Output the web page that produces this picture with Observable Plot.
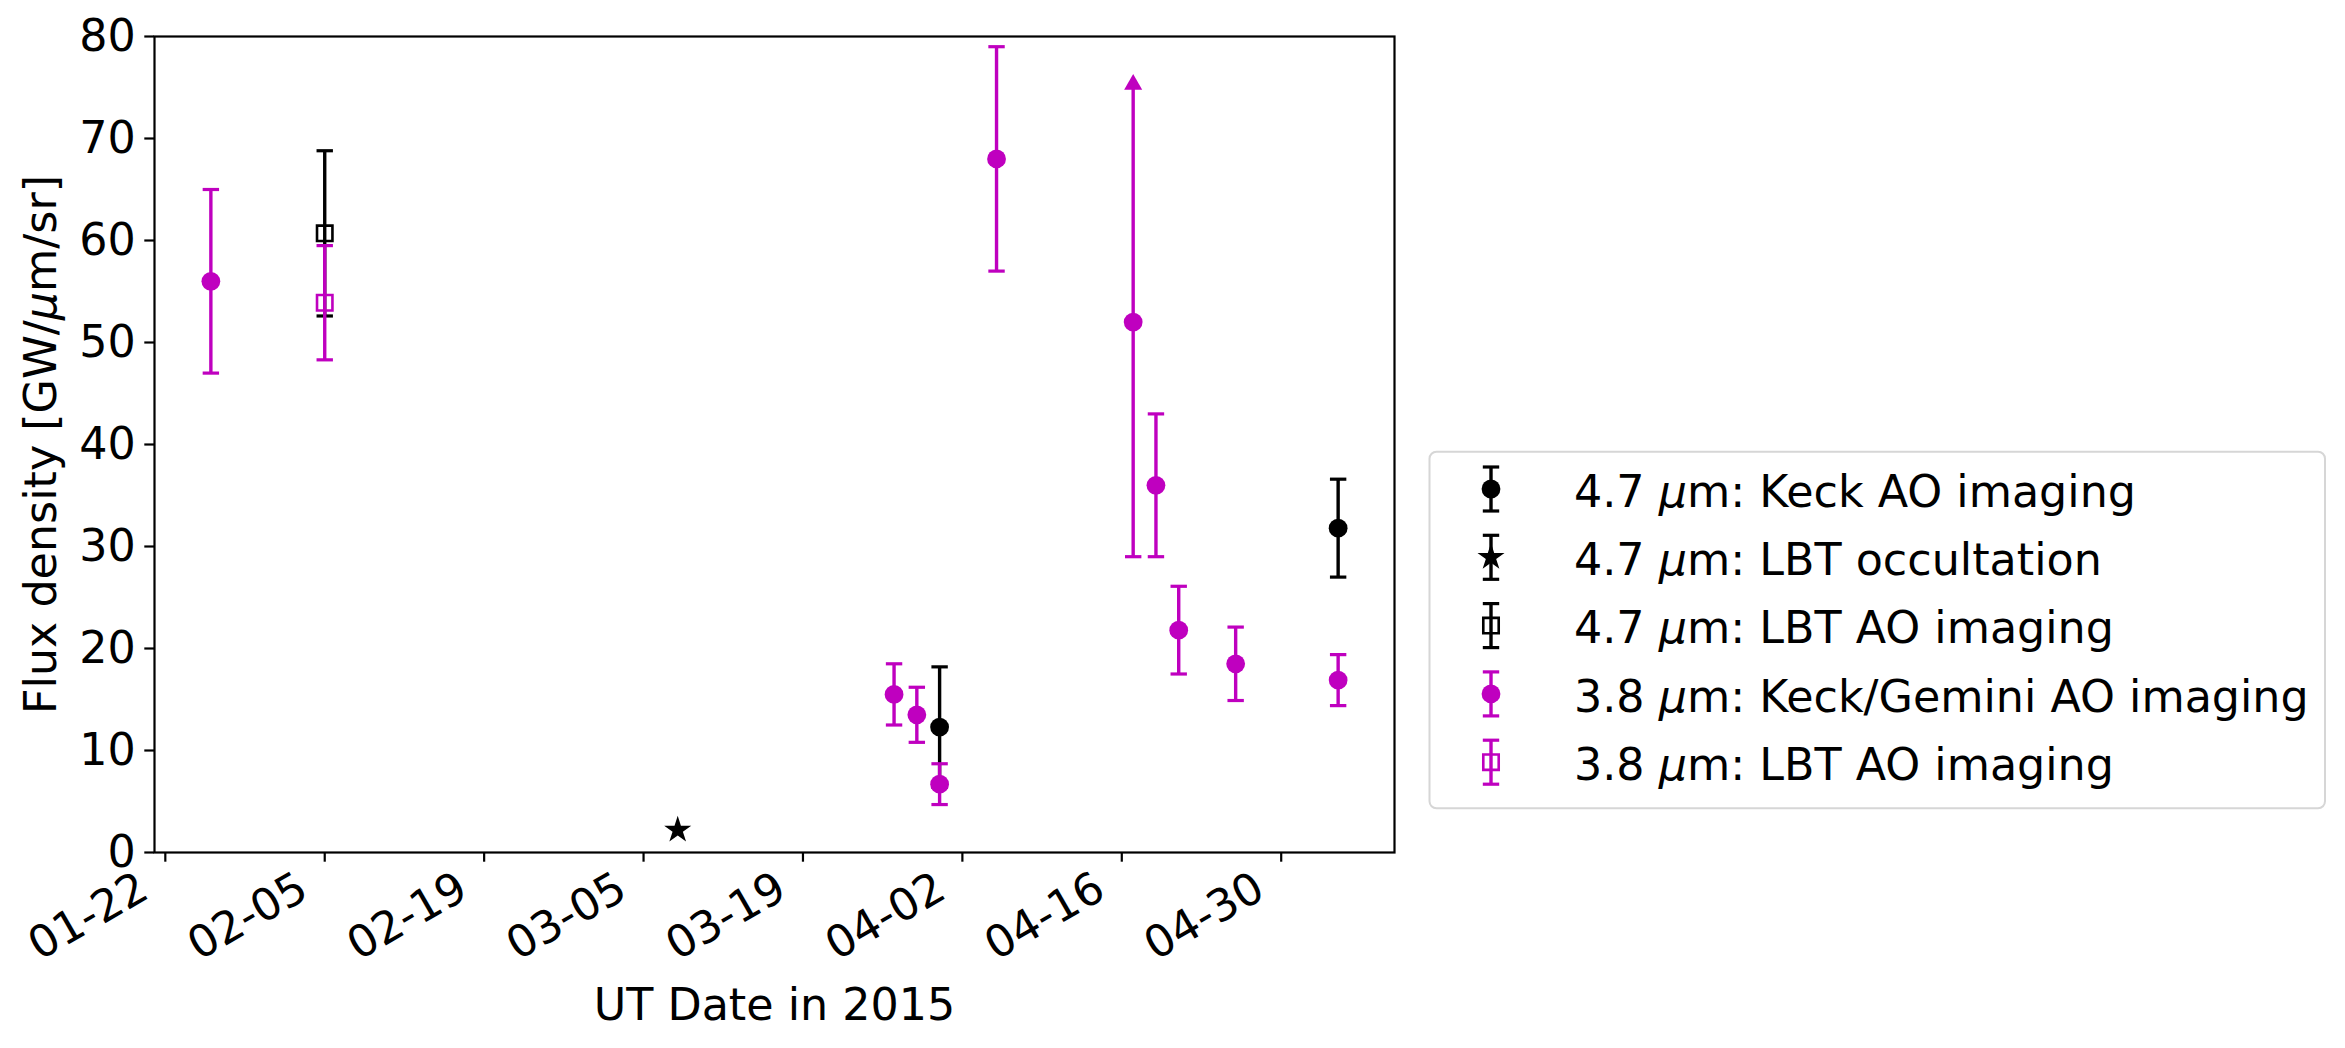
<!DOCTYPE html>
<html><head><meta charset="utf-8">
<script src="https://cdn.jsdelivr.net/npm/d3@7"></script>
<script src="https://cdn.jsdelivr.net/npm/@observablehq/plot@0.6"></script>
<style>
html,body{margin:0;padding:0;background:#fff;}
#chart{position:relative;width:2345px;height:1048px;}
</style></head><body><div id="chart"></div>
<script>
// ---------- data ----------
const keck47Dates = ["2015-03-31", "2015-05-05"];
const keck47Flux = [12.3, 31.8];
const keck47Err = [5.9, 4.8];

const occ47Dates = ["2015-03-08"];
const occ47Flux = [2.2];
const occ47Err = [0];

const lbt47Dates = ["2015-02-05"];
const lbt47Flux = [60.7];
const lbt47Err = [8.1];

const keck38Dates = ["2015-01-26", "2015-03-27", "2015-03-29", "2015-03-31", "2015-04-05",
                     "2015-04-17", "2015-04-19", "2015-04-21", "2015-04-26", "2015-05-05"];
const keck38Flux = [56.0, 15.5, 13.5, 6.7, 68.0, 52.0, 36.0, 21.8, 18.5, 16.9];
const keck38ErrLow = [9.0, 3.0, 2.7, 2.0, 11.0, 23.0, 7.0, 4.3, 3.6, 2.5];
const keck38ErrHigh = [9.0, 3.0, 2.7, 2.0, 11.0, 23.3, 7.0, 4.3, 3.6, 2.5];
const keck38LowerLimit = [false, false, false, false, false, true, false, false, false, false];

const lbt38Dates = ["2015-02-05"];
const lbt38Flux = [53.9];
const lbt38Err = [5.6];

const xTickLabels = ["01-22", "02-05", "02-19", "03-05", "03-19", "04-02", "04-16", "04-30"];
const yTicks = [0, 10, 20, 30, 40, 50, 60, 70, 80];
const yLabel = "Flux density [GW/μm/sr]";
const xLabel = "UT Date in 2015";
const legendLabels = [
  "4.7 μm: Keck AO imaging",
  "4.7 μm: LBT occultation",
  "4.7 μm: LBT AO imaging",
  "3.8 μm: Keck/Gemini AO imaging",
  "3.8 μm: LBT AO imaging"
];

// ---------- styling ----------
const BLACK = "#000000";
const MAGENTA = "#bf00bf";
const FONT = "'DejaVu Sans', sans-serif";
const FS = 44.4;
const R_CIRCLE = 9.4, R_SQUARE = 8.7, R_STAR = 8.5, R_TRI = 6.7;
const CAP_HALF = 8.2, ELW = 3.4, CAPW = 3.2, EDGEW = 2.6;

function rows(dates, flux, errLo, errHi, limit) {
  return dates.map((d, i) => ({
    date: new Date(d), flux: flux[i],
    lo: flux[i] - errLo[i], hi: flux[i] + errHi[i],
    errLo: errLo[i], errHi: errHi[i],
    limit: limit ? limit[i] : false
  }));
}
const series = [
  {data: rows(keck47Dates, keck47Flux, keck47Err, keck47Err), color: BLACK, symbol: "circle", hollow: false},
  {data: rows(occ47Dates, occ47Flux, occ47Err, occ47Err), color: BLACK, symbol: "star", hollow: false},
  {data: rows(lbt47Dates, lbt47Flux, lbt47Err, lbt47Err), color: BLACK, symbol: "square", hollow: true},
  {data: rows(keck38Dates, keck38Flux, keck38ErrLow, keck38ErrHigh, keck38LowerLimit), color: MAGENTA, symbol: "circle", hollow: false},
  {data: rows(lbt38Dates, lbt38Flux, lbt38Err, lbt38Err), color: MAGENTA, symbol: "square", hollow: true}
];
const symR = {circle: R_CIRCLE, square: R_SQUARE, star: R_STAR};

const capSymbol = {draw(ctx) { ctx.moveTo(-CAP_HALF, 0); ctx.lineTo(CAP_HALF, 0); }};

// x domain with 5% padding like matplotlib
const allDates = series.flatMap(s => s.data.map(d => +d.date));
const [x0, x1] = d3.extent(allDates);
const pad = (x1 - x0) * 0.05;
const xDomain = [new Date(x0 - pad), new Date(x1 + pad)];

const marks = [];
for (const s of series) {
  marks.push(Plot.ruleX(s.data, {x: "date", y1: "lo", y2: "hi", stroke: s.color, strokeWidth: ELW}));
  marks.push(Plot.dot(s.data.filter(d => d.errHi > 0 && !d.limit), {x: "date", y: "hi", r: 1, symbol: capSymbol, fill: "none", stroke: s.color, strokeWidth: CAPW}));
  marks.push(Plot.dot(s.data.filter(d => d.errLo > 0), {x: "date", y: "lo", r: 1, symbol: capSymbol, fill: "none", stroke: s.color, strokeWidth: CAPW}));
  marks.push(Plot.dot(s.data.filter(d => d.limit), {x: "date", y: "hi", r: R_TRI, symbol: "triangle", fill: s.color, stroke: "none"}));
  if (s.hollow) {
    marks.push(Plot.dot(s.data, {x: "date", y: "flux", r: symR[s.symbol], symbol: s.symbol, fill: "none", stroke: s.color, strokeWidth: EDGEW}));
  } else {
    marks.push(Plot.dot(s.data, {x: "date", y: "flux", r: symR[s.symbol], symbol: s.symbol, fill: s.color, stroke: "none"}));
  }
}

const svg = Plot.plot({
  width: 2345, height: 1048,
  marginLeft: 154, marginRight: 951, marginTop: 36, marginBottom: 196,
  style: {fontFamily: FONT, fontSize: FS + "px", background: "white", color: "black", overflow: "visible"},
  x: {type: "utc", domain: xDomain},
  y: {domain: [0, 80]},
  marks: [
    Plot.axisY({ticks: yTicks, tickSize: 9.7, tickPadding: 9, tickFormat: d => String(d), fontSize: FS, label: null, strokeWidth: 2.2, stroke: "black"}),
    Plot.axisX({ticks: xTickLabels.map(t => new Date("2015-" + t)), tickSize: 9.7, tickFormat: () => "", label: null, strokeWidth: 2.2, stroke: "black"}),
    Plot.text(xTickLabels, {x: t => new Date("2015-" + t), text: t => t, frameAnchor: "bottom", rotate: -30, textAnchor: "end", lineAnchor: "bottom", dx: -14, dy: 44, fontSize: FS, fill: "black"}),
    Plot.text([yLabel], {text: d => d, frameAnchor: "left", rotate: -90, textAnchor: "middle", lineAnchor: "bottom", dx: -99, fontSize: FS, fill: "black"}),
    Plot.text([xLabel], {text: d => d, frameAnchor: "bottom", textAnchor: "middle", lineAnchor: "bottom", dy: 167, fontSize: FS, fill: "black"}),
    ...marks,
    Plot.frame({stroke: "black", strokeWidth: 2.2})
  ]
});

// italic mu (mathtext style)
function setMuText(el, str) {
  el.textContent = "";
  const parts = str.split("μ");
  parts.forEach((p, i) => {
    if (i > 0) {
      const t = document.createElementNS("http://www.w3.org/2000/svg", "tspan");
      t.setAttribute("font-style", "italic");
      t.textContent = "μ";
      el.appendChild(t);
    }
    if (p) el.appendChild(document.createTextNode(p));
  });
}
svg.querySelectorAll("text").forEach(el => {
  if (el.textContent.includes("μ")) setMuText(el, el.textContent);
});

// ---------- legend ----------
const lg = d3.select(svg).append("g").attr("class", "legend").attr("text-anchor", "start");
const box = {x: 1429.5, y: 451.7, w: 895.5, h: 356.6};
lg.append("rect").attr("x", box.x).attr("y", box.y).attr("width", box.w).attr("height", box.h)
  .attr("rx", 7).attr("fill", "white").attr("fill-opacity", 0.8)
  .attr("stroke", "#d6d6d6").attr("stroke-width", 2);
const mx = 1491, tx = 1574, row0 = 489, rowStep = 68.3, half = 22;
series.forEach((s, i) => {
  const cy = row0 + i * rowStep;
  const g = lg.append("g");
  g.append("line").attr("x1", mx).attr("x2", mx).attr("y1", cy - half).attr("y2", cy + half)
    .attr("stroke", s.color).attr("stroke-width", ELW);
  for (const yy of [cy - half, cy + half]) {
    g.append("line").attr("x1", mx - CAP_HALF).attr("x2", mx + CAP_HALF).attr("y1", yy).attr("y2", yy)
      .attr("stroke", s.color).attr("stroke-width", CAPW);
  }
  const sym = {circle: d3.symbolCircle, square: d3.symbolSquare, star: d3.symbolStar}[s.symbol];
  const r = symR[s.symbol];
  const p = g.append("path").attr("d", d3.symbol(sym, Math.PI * r * r)())
    .attr("transform", `translate(${mx},${cy})`);
  if (s.hollow) p.attr("fill", "none").attr("stroke", s.color).attr("stroke-width", EDGEW);
  else p.attr("fill", s.color);
  const t = g.append("text").attr("x", tx).attr("y", cy + 17.7).attr("text-anchor", "start")
    .attr("font-family", FONT).attr("font-size", FS).attr("fill", "black");
  setMuText(t.node(), legendLabels[i]);
});

document.getElementById("chart").appendChild(svg);
</script></body></html>
